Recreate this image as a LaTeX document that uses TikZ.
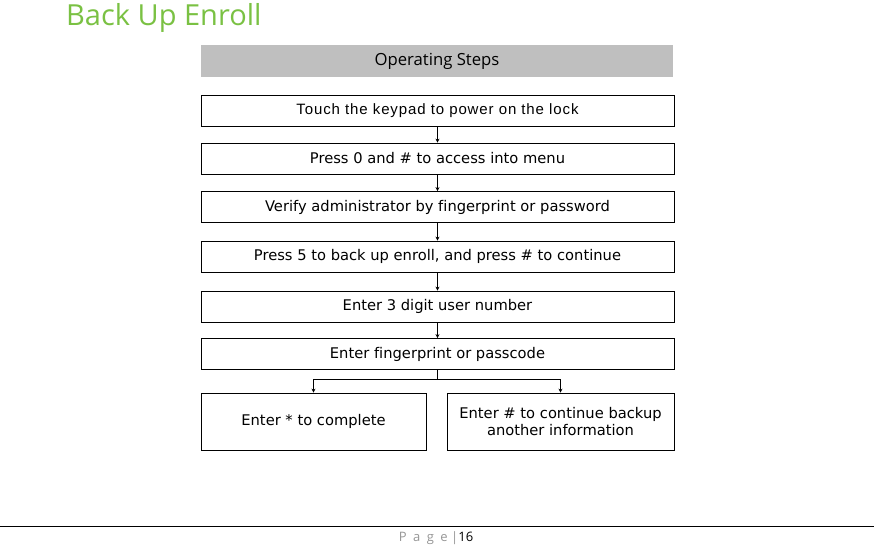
\documentclass[tikz,border=0pt]{standalone}
\usepackage{fontspec}
\setmainfont[Ligatures=NoCommon]{DejaVu Sans}
\newfontfamily\titlefont{Open Sans}
\newfontfamily\arialfont{Liberation Sans}
\usetikzlibrary{arrows.meta, positioning, calc}
\definecolor{titlegreen}{RGB}{122,193,67}
\definecolor{headgray}{RGB}{191,191,191}
\definecolor{pagegray}{RGB}{150,150,150}

\begin{document}
\begin{tikzpicture}[x=1pt, y=-1pt,
    stepbox/.style={draw, line width=0.8pt, minimum width=473pt, minimum height=31pt,
        inner sep=0pt, font=\fontsize{14.7}{17.5}\selectfont},
    endbox/.style={stepbox, minimum width=226pt, minimum height=57pt, align=center},
    flow/.style={-{Stealth[length=4pt, width=4pt]}, line width=0.6pt}]
    \useasboundingbox (0,0) rectangle (874,547);

    % Title
    \node[anchor=base west, inner sep=0pt, text=titlegreen,
        font=\titlefont\fontsize{29}{34}\selectfont] (title) at (66,25) {Back Up Enroll};

    % Header bar
    \node[fill=headgray, minimum width=472pt, minimum height=32pt, inner sep=0pt,
        font=\titlefont\fontsize{16.7}{19}\selectfont] (head) at (437,61) {Operating Steps};

    % Steps
    \node[stepbox, font=\arialfont\fontsize{15}{17}\selectfont\addfontfeature{LetterSpace=6}] (s1) at (437.5,110.5) {Touch the keypad to power on the lock};
    \node[stepbox] (s2) at (437.5,158.5) {Press 0 and \# to access into menu};
    \node[stepbox] (s3) at (437.5,207) {Verify administrator by fingerprint or password};
    \node[stepbox] (s4) at (437.5,256.5) {Press 5 to back up enroll, and press \# to continue};
    \node[stepbox] (s5) at (437.5,306.5) {Enter 3 digit user number};
    \node[stepbox] (s6) at (437.5,354) {Enter fingerprint or passcode};
    \node[endbox, minimum width=225pt] (done) at (313.5,421.5) {Enter * to complete};
    \node[endbox, minimum width=227pt] (again) at (560.5,421.5) {Enter \# to continue backup\\another information};

    % Arrows
    \draw[flow] (s1) -- (s2);
    \draw[flow] (s2) -- (s3);
    \draw[flow] (s3) -- (s4);
    \draw[flow] (s4) -- (s5);
    \draw[flow] (s5) -- (s6);

    % Branch
    \coordinate (fork) at ($(s6.south)+(0,10)$);
    \draw[line width=0.6pt] (s6.south) -- (fork);
    \draw[flow, line width=1pt] (fork) -| (done.north);
    \draw[flow, line width=1pt] (fork) -| (again.north);

    % Footer
    \draw[line width=0.8pt] (0,526) -- (874,526);
    \node[inner sep=0pt, font=\titlefont\fontsize{13}{15}\selectfont] (page) at (436,538)
        {\textcolor{pagegray}{\addfontfeature{LetterSpace=50}Page} \textcolor{pagegray}{|}16};
\end{tikzpicture}
\end{document}
